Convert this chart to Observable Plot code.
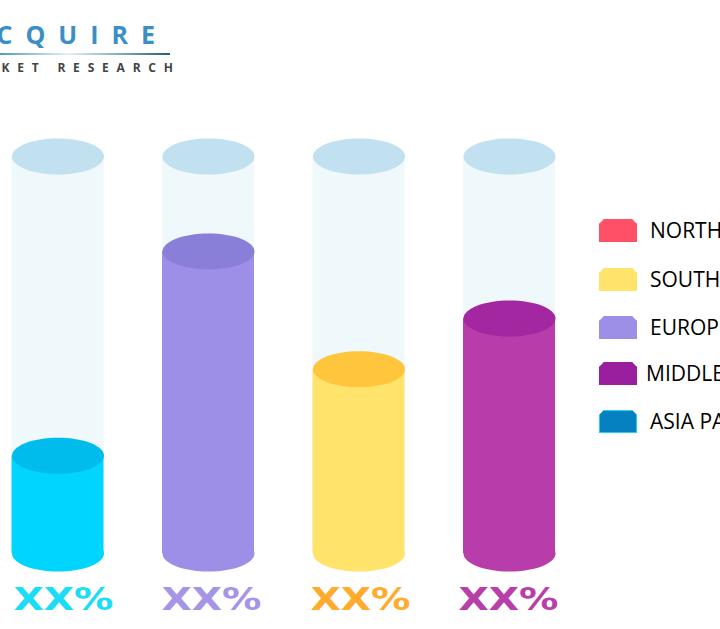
<!DOCTYPE html>
<html>
<head>
<meta charset="utf-8">
<script src="https://cdn.jsdelivr.net/npm/d3@7"></script>
<script src="https://cdn.jsdelivr.net/npm/@observablehq/plot@0.6"></script>
<style>
html,body{margin:0;padding:0;background:#fff;overflow:hidden}
#page{position:relative;width:720px;height:629px;overflow:hidden}
#page svg.plot{display:block}
.pct{font-family:"DejaVu Sans";font-weight:700}
.logo1{position:absolute;right:565px;top:17px;font:700 25px "Open Sans";letter-spacing:13px;color:#3a8fc6;white-space:nowrap;margin-right:-13px}
.logoline{position:absolute;left:0;top:53px;width:170px;height:2px;background:linear-gradient(90deg,#4a9cc4 0%,#e6eff3 40%,#7fb0c2 70%,#1f6074 100%)}
.logo2{position:absolute;right:547px;top:59px;font:700 12px "Open Sans";letter-spacing:7.8px;color:#444;white-space:nowrap;margin-right:-7.8px}
.sw{position:absolute;left:599px;width:38px;height:23px;box-sizing:border-box;clip-path:polygon(5px 0,33px 0,38px 5px,38px 100%,0 100%,0 5px)}
.lb{position:absolute;font:400 21px "Open Sans";color:#000;white-space:nowrap;line-height:26px}
</style>
</head>
<body>
<div id="page"></div>
<script>
const categories = ["ASIA PACIFIC", "EUROPE", "SOUTH AMERICA", "MIDDLE EAST & AFRICA"];
const shares = [24.6, 76.1, 46.4, 59.2];
const fullScale = [100, 100, 100, 100];
const pctLabels = ["XX%", "XX%", "XX%", "XX%"];
const labelShift = [5.5, 3, 1.5, -1];
const bodyColors = ["#00d5ff", "#9d8fe8", "#ffe36a", "#b83daa"];
const topColors = ["#00bcec", "#8a7fd8", "#ffc63d", "#a327a0"];
const labelColors = ["#1cdcf8", "#a594e8", "#ffab2e", "#b83eaa"];
const legendLabels = ["NORTH AMERICA", "SOUTH AMERICA", "EUROPE", "MIDDLE EAST & AFRICA", "ASIA PACIFIC"];
const legendColors = ["#ff5068", "#ffe36a", "#9d8fe8", "#9a1f9e", "#0580c0"];
const legendBorders = ["#ff5068", "#ffe36a", "#9d8fe8", "#9a1f9e", "#20d0f5"];

const ellipse = {
  draw(c, size) {
    const rx = Math.sqrt(size / Math.PI), ry = rx * 18 / 46, k = 0.5523;
    c.moveTo(-rx, 0);
    c.bezierCurveTo(-rx, -k * ry, -k * rx, -ry, 0, -ry);
    c.bezierCurveTo(k * rx, -ry, rx, -k * ry, rx, 0);
    c.bezierCurveTo(rx, k * ry, k * rx, ry, 0, ry);
    c.bezierCurveTo(-k * rx, ry, -rx, k * ry, -rx, 0);
    c.closePath();
  }
};
const X = (d, i) => categories[i];
const stretch = (index, scales, values, dims, ctx, next) => {
  const g = next(index, scales, values, dims, ctx);
  d3.select(g).selectAll("text").attr("textLength", 100).attr("lengthAdjust", "spacingAndGlyphs");
  return g;
};
const chart = Plot.plot({
  width: 720, height: 629,
  marginTop: 0, marginRight: 0, marginBottom: 0, marginLeft: 0,
  x: {type: "band", domain: categories, range: [11.5, 555], paddingInner: 0.3887, paddingOuter: 0, align: 0, round: false, axis: null},
  y: {domain: [0, 100], range: [553, 156], axis: null},
  color: {type: "identity"},
  marks: [
    Plot.barY(fullScale, {x: X, y: d => d, fill: "#eff8fb"}),
    Plot.dot(fullScale, {x: X, y: d => d, r: 46, symbol: ellipse, fill: "#c1e0f0", stroke: "none"}),
    Plot.dot(shares, {x: X, y: () => 0, r: 46, symbol: ellipse, fill: (d, i) => bodyColors[i], stroke: "none"}),
    Plot.barY(shares, {x: X, y: d => d, fill: (d, i) => bodyColors[i]}),
    Plot.dot(shares, {x: X, y: d => d, r: 46, symbol: ellipse, fill: (d, i) => topColors[i], stroke: "none"}),
    ...pctLabels.map((t, i) => Plot.text([t], {
      x: () => categories[i], text: d => d, frameAnchor: "bottom", dx: labelShift[i], dy: -20,
      fontSize: 32, className: "pct", fill: labelColors[i], render: stretch
    }))
  ]
});
const page = document.getElementById("page");
page.appendChild(chart);

const logo = [["logo1", "ACQUIRE"], ["logoline", ""], ["logo2", "MARKET RESEARCH"]];
for (const [cls, txt] of logo) {
  const el = document.createElement("div");
  el.className = cls; el.textContent = txt; page.appendChild(el);
}
const legendTops = [219, 268, 316, 362, 410];
const labelLefts = [650, 650, 650, 646, 650];
legendLabels.forEach((t, i) => {
  const s = document.createElement("div");
  s.className = "sw";
  s.style.top = legendTops[i] + "px";
  s.style.background = legendColors[i];
  s.style.border = "1.5px solid " + legendBorders[i];
  page.appendChild(s);
  const l = document.createElement("div");
  l.className = "lb";
  l.style.left = labelLefts[i] + "px";
  l.style.top = (legendTops[i] - 2) + "px";
  l.textContent = t;
  page.appendChild(l);
});
</script>
</body>
</html>
